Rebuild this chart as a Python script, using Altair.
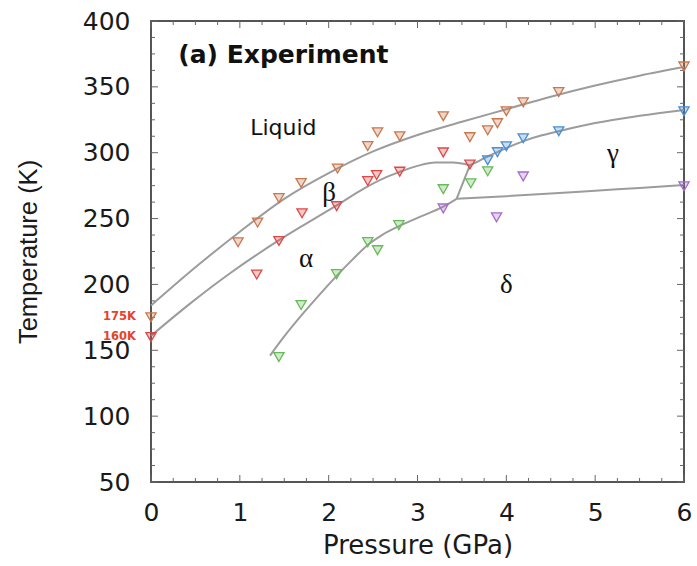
import altair as alt
import pandas as pd

# ---------------- data ----------------
# measured points (pressure GPa, temperature K), grouped by marker colour
liq_P = [0.0, 0.98, 1.20, 1.44, 1.69, 2.10, 2.44, 2.55, 2.80, 3.29, 3.59, 3.79, 3.90, 4.00, 4.19, 4.59, 6.0]
liq_T = [175, 232, 247, 265.5, 277, 288, 305, 315.5, 312.5, 327.7, 311.8, 317, 322.4, 331.5, 338.3, 346, 365.5]
beta_P = [0.0, 1.19, 1.44, 1.70, 2.09, 2.44, 2.54, 2.80, 3.29, 3.59]
beta_T = [160, 207.5, 233, 254, 259.4, 278.5, 283, 285.6, 300.2, 291]
gamma_P = [3.79, 3.90, 4.00, 4.19, 4.59, 6.0]
gamma_T = [294.3, 300.4, 304.9, 311, 316.3, 331.5]
alpha_P = [1.44, 1.69, 2.09, 2.44, 2.55, 2.79, 3.29, 3.60, 3.79]
alpha_T = [144.8, 184.3, 207.8, 232.1, 226, 245, 272.3, 276.8, 285.9]
delta_P = [3.29, 3.89, 4.19, 6.0]
delta_T = [257.7, 250.9, 282, 274.5]

group_names = ["liquid", "beta", "gamma", "alpha", "delta"]
group_stroke = ["#c8784e", "#dc4a48", "#4a8fd2", "#68bb58", "#a66cc8"]

# phase boundary curves
melt_P = [0, 0.5, 1.0, 1.5, 2.0, 2.5, 3.0, 3.5, 4.0, 4.5, 5.0, 5.5, 6.0]
melt_T = [184, 213, 240, 265, 284.5, 301, 313.5, 323.5, 333, 342.5, 351, 358.5, 365]
ab_P = [0, 0.45, 0.89, 1.45, 2.09, 2.4, 2.6, 2.8, 3.0, 3.2, 3.4, 3.59]
ab_T = [161, 186, 208.5, 234, 260, 273, 280, 285.5, 290, 292.5, 292.5, 290.5]
ad_P = [1.34, 1.5, 1.7, 1.9, 2.09, 2.27, 2.44, 2.6, 2.8, 3.0, 3.29, 3.44]
ad_T = [146, 160.5, 177, 192.5, 206.5, 219, 230, 237.5, 244.5, 250.5, 259, 265]
tp_P = [3.44, 3.59]
tp_T = [265, 290.5]
gd_P = [3.44, 4.0, 4.5, 5.0, 5.5, 6.0]
gd_T = [265, 267, 269, 271.2, 273.3, 275.5]
bg_P = [3.59, 3.7, 3.8, 3.9, 4.0, 4.2, 4.4, 4.6, 5.0, 5.5, 6.0]
bg_T = [290.5, 294, 297.5, 300.5, 303.5, 309, 313.2, 316.5, 322.5, 328, 332.5]

# axis ticks
x_major = [0, 1, 2, 3, 4, 5, 6]
x_minor = [0.25, 0.5, 0.75, 1.25, 1.5, 1.75, 2.25, 2.5, 2.75, 3.25, 3.5, 3.75,
           4.25, 4.5, 4.75, 5.25, 5.5, 5.75]
y_major = [50, 100, 150, 200, 250, 300, 350, 400]
y_minor = [62.5, 75, 87.5, 112.5, 125, 137.5, 162.5, 175, 187.5, 212.5, 225, 237.5,
           262.5, 275, 287.5, 312.5, 325, 337.5, 362.5, 375, 387.5]

# annotations
title_text = ["(a) Experiment"]
title_P = [0.307]
title_T = [367.9]
liquid_text = ["Liquid"]
liquid_P = [1.117]
liquid_T = [313.8]
greek_text = ["β", "α", "γ", "δ"]
greek_P = [2.006, 1.747, 5.2, 4.0]
greek_T = [263.6, 213.1, 293.2, 193.4]
ref_text = ["175K", "160K"]
ref_P = [0.0, 0.0]
ref_T = [175, 160]

# ---------------- tables ----------------
pts = pd.concat([
    pd.DataFrame({"P": p, "T": t, "group": g})
    for p, t, g in [(liq_P, liq_T, "liquid"), (beta_P, beta_T, "beta"),
                    (gamma_P, gamma_T, "gamma"), (alpha_P, alpha_T, "alpha"),
                    (delta_P, delta_T, "delta")]
], ignore_index=True)

curves = pd.concat([
    pd.DataFrame({"P": p, "T": t, "curve": c, "i": list(range(len(p)))})
    for p, t, c in [(melt_P, melt_T, "melt"), (ab_P, ab_T, "ab"), (ad_P, ad_T, "ad"),
                    (tp_P, tp_T, "tp"), (gd_P, gd_T, "gd"), (bg_P, bg_T, "bg")]
], ignore_index=True)

W, H = 533, 461
LABEL_FONT = "DejaVu Sans"
frame_col = "#555555"

xscale = alt.Scale(domain=[0, 6], nice=False, zero=False)
yscale = alt.Scale(domain=[50, 400], nice=False, zero=False)

x_axis = alt.Axis(values=x_major, format="d", grid=False, ticks=False, domain=False,
                  tickSize=0, labelFlush=False, labelFont=LABEL_FONT, labelFontSize=25,
                  labelColor="#1a1a1a", labelPadding=18, title="Pressure (GPa)",
                  titleFont=LABEL_FONT, titleFontSize=26, titleFontWeight="normal",
                  titleColor="#1a1a1a", titlePadding=7)
y_axis = alt.Axis(values=y_major, format="d", grid=False, ticks=False, domain=False,
                  tickSize=0, labelFlush=False, labelFont=LABEL_FONT, labelFontSize=25,
                  labelColor="#1a1a1a", labelPadding=21, title="Temperature (K)",
                  titleFont="Liberation Sans", titleFontSize=25.5, titleFontWeight="normal",
                  titleColor="#1a1a1a", titlePadding=41)

X = alt.X("P:Q", scale=xscale, axis=x_axis)
Y = alt.Y("T:Q", scale=yscale, axis=y_axis)

lines = alt.Chart(curves).mark_line(color="#9c9c9c", strokeWidth=2, interpolate="monotone").encode(
    x=X, y=Y, detail="curve:N", order="i:Q")

points = alt.Chart(pts).mark_point(shape="triangle-down", filled=True, size=105,
                                   fillOpacity=0.3, strokeWidth=1.3, opacity=1).encode(
    x=X, y=Y,
    fill=alt.Fill("group:N", scale=alt.Scale(domain=group_names, range=group_stroke), legend=None),
    stroke=alt.Stroke("group:N", scale=alt.Scale(domain=group_names, range=group_stroke), legend=None),
)

tick_col = "#666666"
xmaj = pd.DataFrame({"P": x_major})
xmin = pd.DataFrame({"P": x_minor})
ymaj = pd.DataFrame({"T": y_major})
ymin = pd.DataFrame({"T": y_minor})

def xticks(df, length):
    bottom = alt.Chart(df).mark_rule(color=tick_col, strokeWidth=1).encode(
        x=X, y=alt.value(H), y2=alt.value(H - length))
    top = alt.Chart(df).mark_rule(color=tick_col, strokeWidth=1).encode(
        x=X, y=alt.value(0), y2=alt.value(length))
    return [bottom, top]

def yticks(df, length):
    left = alt.Chart(df).mark_rule(color=tick_col, strokeWidth=1).encode(
        y=Y, x=alt.value(0), x2=alt.value(length))
    right = alt.Chart(df).mark_rule(color=tick_col, strokeWidth=1).encode(
        y=Y, x=alt.value(W), x2=alt.value(W - length))
    return [left, right]

ticks = xticks(xmaj, 7) + xticks(xmin, 4) + yticks(ymaj, 7) + yticks(ymin, 4)

title = alt.Chart(pd.DataFrame({"P": title_P, "T": title_T, "txt": title_text})).mark_text(
    font=LABEL_FONT, fontSize=25, fontWeight="bold", align="left", baseline="alphabetic",
    color="#111111").encode(x=X, y=Y, text="txt:N")

liquid = alt.Chart(pd.DataFrame({"P": liquid_P, "T": liquid_T, "txt": liquid_text})).mark_text(
    font=LABEL_FONT, fontSize=22, align="left", baseline="alphabetic",
    color="#111111").encode(x=X, y=Y, text="txt:N")

greek = alt.Chart(pd.DataFrame({"P": greek_P, "T": greek_T, "txt": greek_text})).mark_text(
    font="Liberation Serif", fontSize=27, align="center", baseline="alphabetic",
    color="#111111").encode(x=X, y=Y, text="txt:N")

refs = alt.Chart(pd.DataFrame({"P": ref_P, "T": ref_T, "txt": ref_text})).mark_text(
    font=LABEL_FONT, fontSize=11.5, fontWeight="bold", align="right", baseline="middle",
    dx=-15, color="#e5432c").encode(x=X, y=Y, text="txt:N")

chart = alt.layer(lines, *ticks, points, title, liquid, greek, refs).properties(
    width=W, height=H,
    autosize=alt.AutoSizeParams(type="none"),
    padding={"left": 151, "top": 21, "right": 13, "bottom": 84},
    background="white",
).configure_view(stroke=frame_col, strokeWidth=2)

chart.save("out.html", embed_options={"renderer": "svg", "actions": False})
